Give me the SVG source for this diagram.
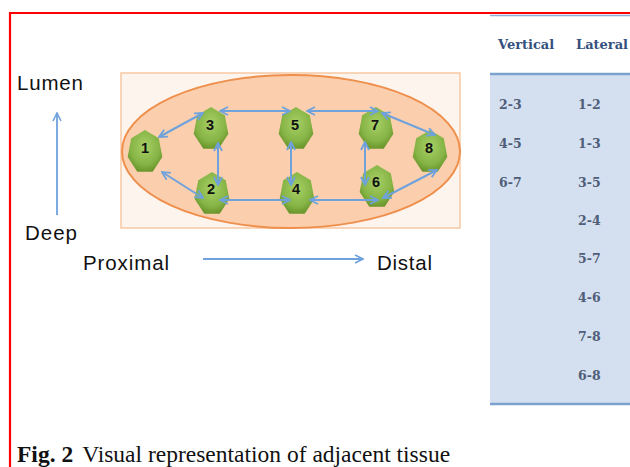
<svg xmlns="http://www.w3.org/2000/svg" xmlns:xlink="http://www.w3.org/1999/xlink" width="630" height="467" viewBox="0 0 630 467">
<style>
.ax{font-family:"Liberation Sans",Arial,sans-serif;font-size:20.5px;fill:#111}
.nl{font-family:"Liberation Sans",Arial,sans-serif;font-size:14.5px;font-weight:bold;fill:#111;text-anchor:middle}
.th{font-family:"DejaVu Serif",serif;font-size:13px;font-weight:bold;fill:#34507e}
.td{font-family:"DejaVu Serif",serif;font-size:12.5px;font-weight:bold;fill:#4f5d78}
.cn{stroke:#6fa2dc;stroke-width:2;fill:none;marker-start:url(#ah);marker-end:url(#ah)}
.cap{font-family:"Liberation Serif","Times New Roman",serif;font-size:23.5px;fill:#111}
</style>
<defs>
<marker id="ah" viewBox="0 0 10 10" refX="9" refY="5" markerWidth="10" markerHeight="10" markerUnits="userSpaceOnUse" orient="auto-start-reverse">
<path d="M1,1 L9,5 L1,9" fill="none" stroke="#6fa2dc" stroke-width="1.8"/>
</marker>
<marker id="ah1" viewBox="0 0 10 10" refX="9" refY="5" markerWidth="10" markerHeight="10" markerUnits="userSpaceOnUse" orient="auto">
<path d="M1,1 L9,5 L1,9" fill="none" stroke="#6fa2dc" stroke-width="1.6"/>
</marker>
<radialGradient id="g" cx="50%" cy="40%" r="60%">
<stop offset="0" stop-color="#a8d066"/>
<stop offset="0.7" stop-color="#86b445"/>
<stop offset="1" stop-color="#6a962c"/>
</radialGradient>
<polygon id="hept" points="0,-22 13.8,-13.7 17.3,4.9 7.7,19.8 -7.7,19.8 -17.3,4.9 -13.8,-13.7" fill="url(#g)"/>
</defs>
<rect width="630" height="467" fill="#fff"/>
<g id="frame">
<path d="M10,467 V13 H630" fill="none" stroke="#ff0000" stroke-width="2.2"/>
</g>
<g id="table">
<rect x="490" y="74" width="140" height="330" fill="#d4e0f0"/>
<line x1="490" y1="15.5" x2="630" y2="15.5" stroke="#8eb0d8" stroke-width="1.5"/>
<line x1="490" y1="74" x2="630" y2="74" stroke="#7ea2cf" stroke-width="2.5"/>
<line x1="490" y1="404" x2="630" y2="404" stroke="#7ea2cf" stroke-width="2.5"/>
<text class="th" x="498" y="49">Vertical</text>
<text class="th" x="576" y="49">Lateral</text>
<text class="td" x="499" y="109">2-3</text>
<text class="td" x="499" y="148">4-5</text>
<text class="td" x="499" y="187">6-7</text>
<text class="td" x="578" y="109">1-2</text>
<text class="td" x="578" y="148">1-3</text>
<text class="td" x="578" y="187">3-5</text>
<text class="td" x="578" y="225">2-4</text>
<text class="td" x="578" y="263">5-7</text>
<text class="td" x="578" y="302">4-6</text>
<text class="td" x="578" y="341">7-8</text>
<text class="td" x="578" y="380">6-8</text>
</g>
<g id="tissue">
<rect x="121" y="73" width="339" height="155" fill="#fdf4ee" stroke="#f8c8a4" stroke-width="1.5"/>
<ellipse cx="291" cy="151.5" rx="169" ry="76.5" fill="#fbcfae" stroke="#ee8f4c" stroke-width="2"/>
</g>
<g id="n1"><use xlink:href="#hept" x="145" y="152"/><text class="nl" x="145" y="153">1</text></g>
<g id="n3"><use xlink:href="#hept" x="211" y="129"/><text class="nl" x="210" y="130">3</text></g>
<g id="n2"><use xlink:href="#hept" x="212" y="194"/><text class="nl" x="211" y="194">2</text></g>
<g id="n5"><use xlink:href="#hept" x="296" y="129"/><text class="nl" x="295" y="130">5</text></g>
<g id="n4"><use xlink:href="#hept" x="297" y="194"/><text class="nl" x="296" y="194">4</text></g>
<g id="n7"><use xlink:href="#hept" x="376" y="129"/><text class="nl" x="375" y="130">7</text></g>
<g id="n6"><use xlink:href="#hept" x="377" y="187"/><text class="nl" x="376" y="187">6</text></g>
<g id="n8"><use xlink:href="#hept" x="430" y="152"/><text class="nl" x="429" y="153">8</text></g>
<g id="connectors">
<line class="cn" x1="159" y1="137" x2="203" y2="113"/>
<line class="cn" x1="162" y1="172" x2="203" y2="198"/>
<line class="cn" x1="218" y1="143" x2="218" y2="185"/>
<line class="cn" x1="220" y1="111" x2="290" y2="111"/>
<line class="cn" x1="307" y1="111" x2="378" y2="111"/>
<line class="cn" x1="291" y1="142" x2="291" y2="185"/>
<line class="cn" x1="220" y1="200" x2="290" y2="200"/>
<line class="cn" x1="310" y1="200" x2="378" y2="200"/>
<line class="cn" x1="365" y1="142" x2="365" y2="185"/>
<line class="cn" x1="382" y1="113" x2="435" y2="135"/>
<line class="cn" x1="383" y1="198" x2="437" y2="170"/>
<line x1="57" y1="215" x2="57" y2="113" stroke="#6fa2dc" stroke-width="1.8" marker-end="url(#ah1)"/>
<line x1="203" y1="259" x2="363" y2="259" stroke="#6fa2dc" stroke-width="1.8" marker-end="url(#ah1)"/>
</g>
<g id="axes">
<text class="ax" x="17" y="90" textLength="66">Lumen</text>
<text class="ax" x="25" y="240" textLength="52">Deep</text>
<text class="ax" x="83" y="270" textLength="86">Proximal</text>
<text class="ax" x="377" y="270" textLength="55">Distal</text>
</g>
<text class="cap" x="17" y="462"><tspan font-weight="bold">Fig. 2</tspan><tspan dx="9">Visual representation of adjacent tissue</tspan></text>
</svg>
